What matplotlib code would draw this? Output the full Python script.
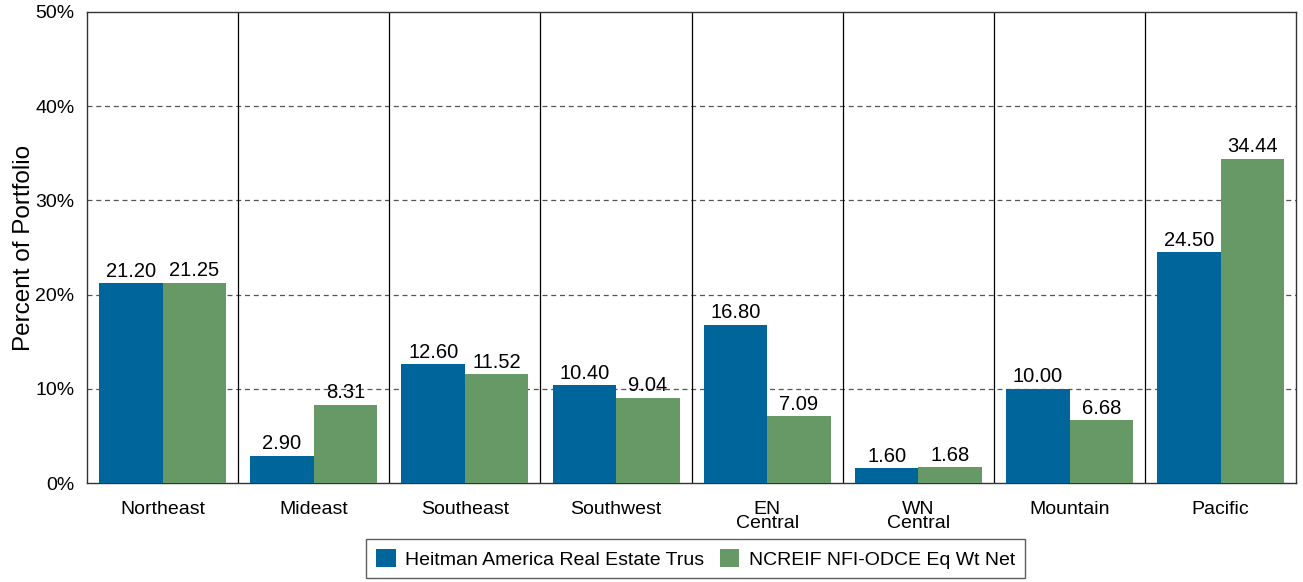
import matplotlib.pyplot as plt
import numpy as np

plt.rcParams['font.family'] = ['Liberation Sans', 'DejaVu Sans']

regions = ["Northeast", "Mideast", "Southeast", "Southwest", "EN\nCentral",
           "WN\nCentral", "Mountain", "Pacific"]
heitman = [21.20, 2.90, 12.60, 10.40, 16.80, 1.60, 10.00, 24.50]
ncreif = [21.25, 8.31, 11.52, 9.04, 7.09, 1.68, 6.68, 34.44]
series_names = ["Heitman America Real Estate Trus", "NCREIF NFI-ODCE Eq Wt Net"]

blue = "#00659a"
green = "#669966"

fig = plt.figure(figsize=(13.03, 5.82), dpi=100)
ax = fig.add_axes([0.0668, 0.1701, 0.928, 0.8093])

x = np.arange(len(regions))
w = 0.42
b1 = ax.bar(x - w / 2, heitman, w, color=blue, label=series_names[0], zorder=3)
b2 = ax.bar(x + w / 2, ncreif, w, color=green, label=series_names[1], zorder=3)

for bars in (b1, b2):
    for r in bars:
        ax.text(r.get_x() + r.get_width() / 2, r.get_height() + 0.25,
                f"{r.get_height():.2f}", ha='center', va='bottom', fontsize=14.5, zorder=4)

ax.set_xlim(-0.5, len(regions) - 0.5)
ax.set_ylim(0, 50)
ax.set_yticks(range(0, 51, 10))
ax.set_yticklabels([f"{v}%" for v in range(0, 51, 10)], fontsize=14)
ax.set_xticks(x)
ax.set_xticklabels(regions, fontsize=14, linespacing=0.8)
ax.tick_params(axis='x', length=0, pad=13)
ax.tick_params(axis='y', length=0, pad=9)

for v in range(10, 50, 10):
    ax.axhline(v, color='#555555', lw=0.9, ls=(0, (4, 3)), zorder=1)
for b in np.arange(0.5, len(regions) - 0.5, 1):
    ax.axvline(b, color='black', lw=0.9, zorder=1)

for s in ax.spines.values():
    s.set_color('#333333')
    s.set_linewidth(1.0)

ax.set_ylabel("Percent of Portfolio", fontsize=17.5, labelpad=0)

fig.legend(handles=[b1, b2], loc='upper center', bbox_to_anchor=(0.534, 0.074),
           ncol=2, fontsize=14, frameon=True, fancybox=False, edgecolor='#333333',
           handlelength=1.0, handleheight=1.1, handletextpad=0.5, columnspacing=0.8,
           borderpad=0.5, borderaxespad=0)

fig.savefig("out.png", dpi=100)
